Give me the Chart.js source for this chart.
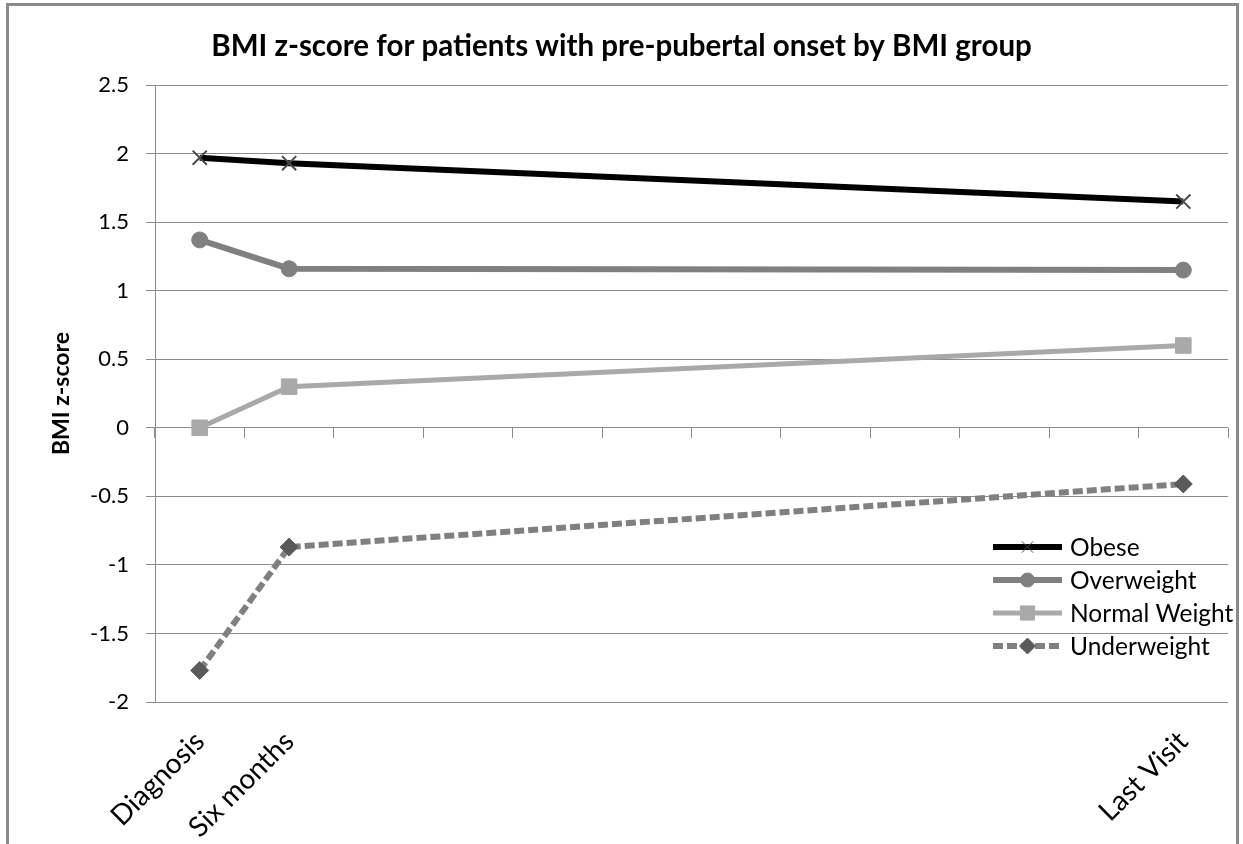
<!DOCTYPE html>
<html>
<head>
<meta charset="utf-8">
<script src="https://cdn.jsdelivr.net/npm/chart.js@4/dist/chart.umd.min.js"></script>
<style>
  html, body { margin: 0; padding: 0; background: #fff; overflow: hidden; }
  #wrap { position: relative; width: 1243px; height: 844px; }
  #chart { position: absolute; left: 0; top: 0; }
  #frame { position: absolute; left: 6px; top: 3px; width: 1233px; height: 900px;
           border: 3px solid #8a8a8a; box-sizing: border-box; pointer-events: none; }
</style>
</head>
<body>
<div id="wrap">
  <canvas id="chart" width="1243" height="844"></canvas>
  <div id="frame"></div>
</div>
<script>
// Visit points along the category axis (blank slots keep the spacing of the time line)
const categories = ['Diagnosis', 'Six months', '', '', '', '', '', '', '', '', '', 'Last Visit'];

// BMI z-score per BMI group at each visit
const obese        = [1.97, 1.93, null, null, null, null, null, null, null, null, null, 1.65];
const overweight   = [1.37, 1.16, null, null, null, null, null, null, null, null, null, 1.15];
const normalWeight = [0.00, 0.30, null, null, null, null, null, null, null, null, null, 0.60];
const underweight  = [-1.77, -0.87, null, null, null, null, null, null, null, null, null, -0.41];

const yTicks = [-2, -1.5, -1, -0.5, 0, 0.5, 1, 1.5, 2, 2.5];

const FONT = 'Lato, "Open Sans", sans-serif';
const GRID = '#8c8c8c';

// Legend drawn inside the plot area, lower right
const innerLegend = {
  id: 'innerLegend',
  afterDatasetsDraw(chart) {
    const { ctx, chartArea } = chart;
    const x0 = chartArea.right - 235;
    const x1 = chartArea.right - 166;
    const tx = chartArea.right - 158;
    let y = chartArea.bottom - 155;
    ctx.save();
    chart.data.datasets.forEach((ds) => {
      ctx.beginPath();
      ctx.lineWidth = ds.borderWidth;
      ctx.strokeStyle = ds.borderColor;
      ctx.setLineDash(ds.borderDash || []);
      ctx.lineCap = 'butt';
      ctx.moveTo(x0, y);
      ctx.lineTo(x1, y);
      ctx.stroke();
      ctx.setLineDash([]);
      ctx.fillStyle = ds.pointBackgroundColor;
      ctx.strokeStyle = ds.pointBorderColor;
      ctx.lineWidth = ds.legendPointWidth;
      Chart.helpers.drawPoint(ctx, {
        pointStyle: ds.pointStyle,
        radius: ds.legendRadius,
        rotation: 0,
        borderWidth: ds.legendPointWidth
      }, (x0 + x1) / 2, y);
      ctx.fillStyle = '#000';
      ctx.font = '24.5px ' + FONT;
      ctx.textBaseline = 'middle';
      ctx.textAlign = 'left';
      ctx.fillText(ds.label, tx, y + 1);
      y += 33;
    });
    ctx.restore();
  }
};

new Chart(document.getElementById('chart'), {
  type: 'line',
  data: {
    labels: categories,
    datasets: [
      {
        label: 'Obese', data: obese,
        borderColor: '#000000', borderWidth: 6,
        pointStyle: 'crossRot', pointRadius: 10, pointBorderWidth: 2,
        pointBorderColor: '#4a4a4a', pointBackgroundColor: '#4a4a4a',
        legendRadius: 8, legendPointWidth: 1
      },
      {
        label: 'Overweight', data: overweight,
        borderColor: '#808080', borderWidth: 6,
        pointStyle: 'circle', pointRadius: 8, pointBorderWidth: 1,
        pointBorderColor: '#808080', pointBackgroundColor: '#808080',
        legendRadius: 7, legendPointWidth: 1
      },
      {
        label: 'Normal Weight', data: normalWeight,
        borderColor: '#a9a9a9', borderWidth: 5,
        pointStyle: 'rect', pointRadius: 11, pointBorderWidth: 1,
        pointBorderColor: '#a9a9a9', pointBackgroundColor: '#a9a9a9',
        legendRadius: 10, legendPointWidth: 1
      },
      {
        label: 'Underweight', data: underweight,
        borderColor: '#808080', borderWidth: 6, borderDash: [10, 4],
        pointStyle: 'rectRot', pointRadius: 9, pointBorderWidth: 1,
        pointBorderColor: '#5a5a5a', pointBackgroundColor: '#5a5a5a',
        legendRadius: 8, legendPointWidth: 1
      }
    ]
  },
  options: {
    responsive: false,
    animation: false,
    spanGaps: true,
    events: [],
    layout: { padding: 0 },
    plugins: {
      legend: { display: false },
      tooltip: { enabled: false },
      title: {
        display: true,
        text: 'BMI z-score for patients with pre-pubertal onset by BMI group',
        color: '#000',
        font: { family: FONT, size: 29.5, weight: 'bold', lineHeight: 1.2 },
        padding: { top: 29, bottom: 20.6 }
      }
    },
    elements: { line: { tension: 0 } },
    scales: {
      x: {
        type: 'category',
        offset: true,
        grid: { display: false, drawTicks: false },
        border: { display: false },
        ticks: {
          autoSkip: false, minRotation: 45, maxRotation: 45,
          color: '#000', padding: 23,
          font: { family: FONT, size: 28 }
        },
        afterFit(scale) { scale.height = 142; }
      },
      xTicks: {
        type: 'category',
        position: { y: 0 },
        offset: true,
        grid: { display: true, offset: true, drawOnChartArea: false, drawTicks: true,
                tickLength: 10, color: GRID, lineWidth: 1 },
        border: { display: false },
        ticks: { display: false }
      },
      y: {
        min: -2, max: 2.5,
        afterBuildTicks(scale) { scale.ticks = yTicks.map(v => ({ value: v })); },
        grid: { color: GRID, lineWidth: 1, tickLength: 9 },
        border: { display: true, color: GRID, width: 1 },
        ticks: {
          color: '#000', padding: 17, font: { family: FONT, size: 22 },
          callback: (v) => String(v)
        },
        title: {
          display: true, text: 'BMI z-score', color: '#000',
          font: { family: FONT, size: 23, weight: 'bold', lineHeight: 1.2 },
          padding: { top: 48, bottom: 0 }
        },
        afterFit(scale) { scale.width = 155; }
      },
      // empty right margin so the title stays centred on the whole canvas
      yMargin: {
        position: 'right',
        min: -2, max: 2.5,
        grid: { display: false, drawTicks: false },
        border: { display: false },
        ticks: { display: false },
        afterFit(scale) { scale.width = 15; }
      }
    }
  },
  plugins: [innerLegend]
});
</script>
</body>
</html>
